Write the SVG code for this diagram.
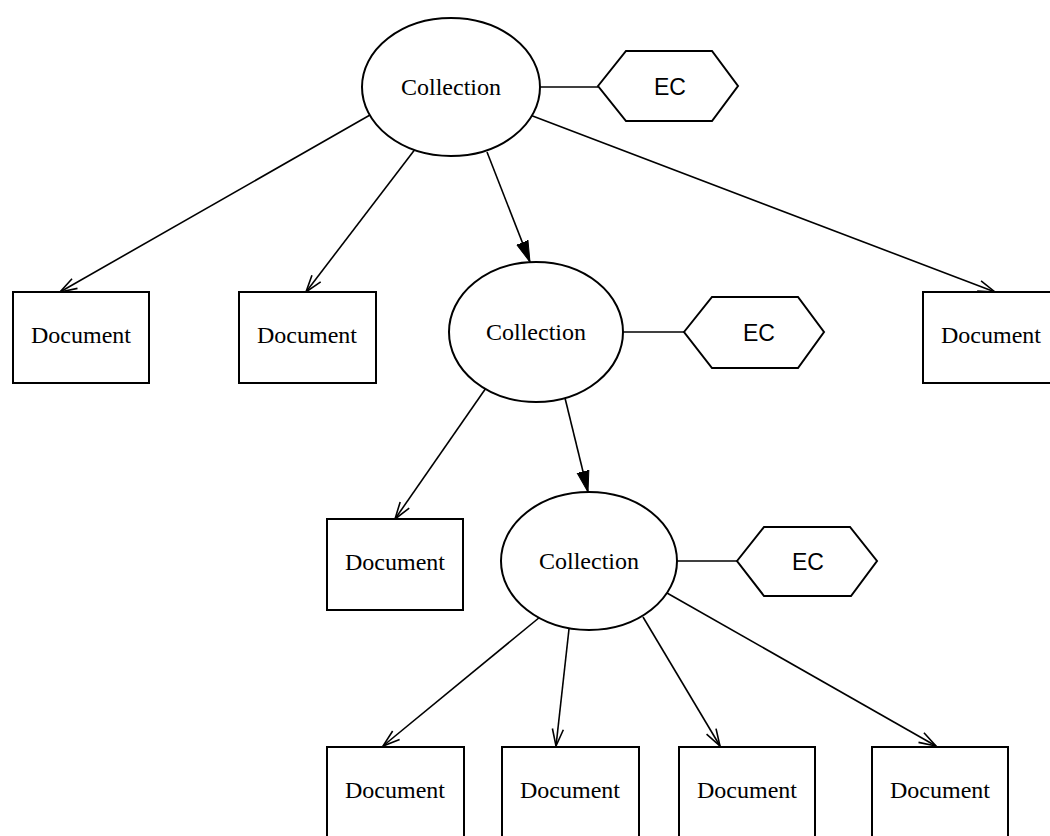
<svg xmlns="http://www.w3.org/2000/svg" width="1050" height="836" viewBox="0 0 1050 836">
<style>
.shape{fill:#fff;stroke:#000;stroke-width:2}
.lbl{font-family:"Liberation Serif",serif;font-size:24px;fill:#000;text-anchor:middle}
.ec{font-family:"Liberation Sans",sans-serif;font-size:23px;fill:#000;text-anchor:middle}
.edge{stroke:#000;stroke-width:1.6;fill:none}
</style>
<defs>
<marker id="open" markerUnits="userSpaceOnUse" markerWidth="20" markerHeight="14" viewBox="0 0 20 14" refX="18" refY="7" orient="auto">
<path d="M1,1.5 L18,7 L1,12.5" fill="none" stroke="#000" stroke-width="1.6"/>
</marker>
<marker id="solid" markerUnits="userSpaceOnUse" markerWidth="22" markerHeight="14" viewBox="0 0 22 14" refX="21" refY="7" orient="auto">
<path d="M0,1 L21,7 L0,13 Z" fill="#000" stroke="#000" stroke-width="1"/>
</marker>
</defs>
<rect width="1050" height="836" fill="#fff"/>
<g id="connectors">
<line class="edge" x1="370" y1="115" x2="60" y2="292" marker-end="url(#open)"/>
<line class="edge" x1="416" y1="148" x2="306" y2="292" marker-end="url(#open)"/>
<line class="edge" x1="487" y1="152" x2="530" y2="262" marker-end="url(#solid)"/>
<line class="edge" x1="530" y1="115" x2="995" y2="292" marker-end="url(#open)"/>
<line class="edge" x1="540" y1="87" x2="598" y2="87"/>
<line class="edge" x1="486" y1="388" x2="395" y2="519" marker-end="url(#open)"/>
<line class="edge" x1="565" y1="398" x2="588" y2="492" marker-end="url(#solid)"/>
<line class="edge" x1="623" y1="332" x2="684" y2="332"/>
<line class="edge" x1="540" y1="617" x2="383" y2="746" marker-end="url(#open)"/>
<line class="edge" x1="569" y1="629" x2="556" y2="746" marker-end="url(#open)"/>
<line class="edge" x1="643" y1="617" x2="720" y2="746" marker-end="url(#open)"/>
<line class="edge" x1="667" y1="593" x2="936" y2="746" marker-end="url(#open)"/>
<line class="edge" x1="677" y1="561" x2="737" y2="561"/>
</g>
<g id="coll1"><ellipse class="shape" cx="451" cy="87" rx="89" ry="69"/><text class="lbl" x="451" y="95">Collection</text></g>
<g id="ec1"><polygon class="shape" points="598,86 626,51 712,51 738,86 712,121 626,121"/><text class="ec" x="670" y="95">EC</text></g>
<g id="doc1"><rect class="shape" x="13" y="292" width="136" height="91"/><text class="lbl" x="81" y="343">Document</text></g>
<g id="doc2"><rect class="shape" x="239" y="292" width="137" height="91"/><text class="lbl" x="307" y="343">Document</text></g>
<g id="doc3"><rect class="shape" x="923" y="292" width="137" height="91"/><text class="lbl" x="991" y="343">Document</text></g>
<g id="coll2"><ellipse class="shape" cx="536" cy="332" rx="87" ry="70"/><text class="lbl" x="536" y="340">Collection</text></g>
<g id="ec2"><polygon class="shape" points="684,332 712,297 798,297 824,332 798,368 712,368"/><text class="ec" x="759" y="341">EC</text></g>
<g id="doc4"><rect class="shape" x="327" y="519" width="136" height="91"/><text class="lbl" x="395" y="570">Document</text></g>
<g id="coll3"><ellipse class="shape" cx="589" cy="561" rx="88" ry="69"/><text class="lbl" x="589" y="569">Collection</text></g>
<g id="ec3"><polygon class="shape" points="737,561 764,527 850,527 877,561 851,596 764,596"/><text class="ec" x="808" y="570">EC</text></g>
<g id="doc5"><rect class="shape" x="327" y="747" width="137" height="91"/><text class="lbl" x="395" y="798">Document</text></g>
<g id="doc6"><rect class="shape" x="502" y="747" width="137" height="91"/><text class="lbl" x="570" y="798">Document</text></g>
<g id="doc7"><rect class="shape" x="679" y="747" width="136" height="91"/><text class="lbl" x="747" y="798">Document</text></g>
<g id="doc8"><rect class="shape" x="872" y="747" width="136" height="91"/><text class="lbl" x="940" y="798">Document</text></g>
</svg>
